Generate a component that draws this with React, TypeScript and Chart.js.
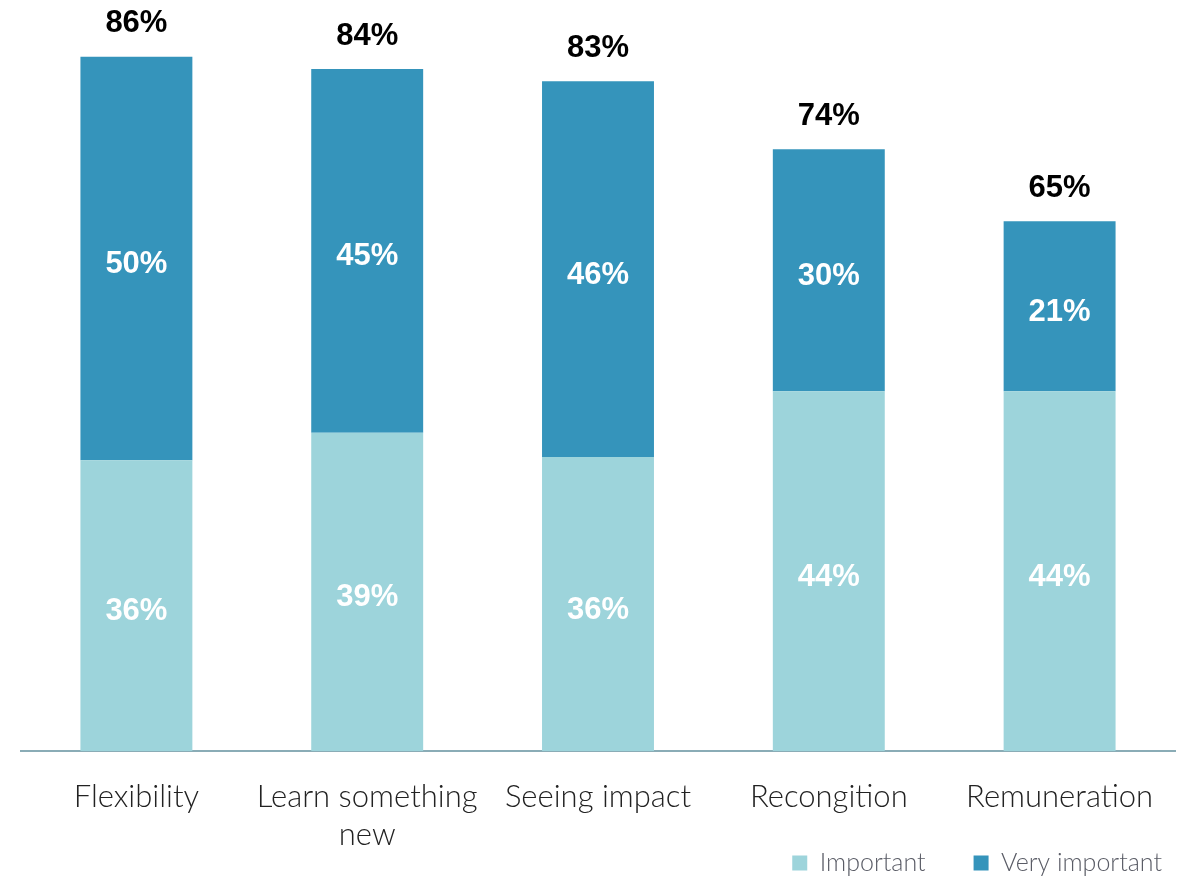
import React, { useEffect, useRef } from "react";
import { Chart, registerables } from "chart.js";

Chart.register(...registerables);

const categories: (string | string[])[] = [
  "Flexibility",
  ["Learn something", "new"],
  "Seeing impact",
  "Recongition",
  "Remuneration",
];
const importantValues = [35.9, 39.3, 36.3, 44.4, 44.4];
const veryImportantValues = [49.8, 44.9, 46.4, 29.9, 21.0];
const seriesNames = ["Important", "Very important"];

const LIGHT = "#9dd4db";
const DARK = "#3594bb";
const LABEL_FONT = "bold 31px 'Liberation Sans', Arial, sans-serif";
const LEGEND_FONT_SIZE = 25;
const LEGEND_PAD = 48;

const labelPlugin = {
  id: "valueLabels",
  afterDatasetsDraw(chart: any) {
    const ctx = chart.ctx;
    ctx.save();
    ctx.font = LABEL_FONT;
    ctx.textAlign = "center";
    ctx.textBaseline = "middle";
    chart.data.datasets.forEach((ds: any, di: number) => {
      const meta = chart.getDatasetMeta(di);
      meta.data.forEach((bar: any, i: number) => {
        const v = ds.data[i];
        ctx.fillStyle = "#ffffff";
        ctx.fillText(Math.round(v) + "%", bar.x, (bar.y + bar.base) / 2 + 6);
      });
    });
    const topMeta = chart.getDatasetMeta(chart.data.datasets.length - 1);
    topMeta.data.forEach((bar: any, i: number) => {
      const total = importantValues[i] + veryImportantValues[i];
      ctx.fillStyle = "#000000";
      ctx.fillText(Math.round(total) + "%", bar.x, bar.y - 33);
    });
    ctx.restore();
  },
};

// place the legend row in the bottom-right corner
const legendPlacer = {
  id: "legendPlacer",
  afterLayout(chart: any) {
    const lg = chart.legend;
    if (!lg) return;
    const targetCenterY = 863;
    const targetTextEnd = 1162;
    const itemH = Math.max(LEGEND_FONT_SIZE, 15);
    const newTop = targetCenterY - LEGEND_PAD - itemH / 2;
    lg.top = newTop;
    lg.bottom = newTop + LEGEND_PAD + itemH + 30;
    const newRight = targetTextEnd + LEGEND_PAD;
    const dx = newRight - lg.right;
    lg.left += dx;
    lg.right += dx;
  },
};

export default function App() {
  const canvasRef = useRef<HTMLCanvasElement | null>(null);

  useEffect(() => {
    if (!canvasRef.current) return;
    const chart = new Chart(canvasRef.current, {
      type: "bar",
      data: {
        labels: categories,
        datasets: [
          {
            label: seriesNames[0],
            data: importantValues,
            backgroundColor: LIGHT,
            categoryPercentage: 1,
            barPercentage: 0.485,
          },
          {
            label: seriesNames[1],
            data: veryImportantValues,
            backgroundColor: DARK,
            categoryPercentage: 1,
            barPercentage: 0.485,
          },
        ],
      },
      options: {
        animation: false,
        responsive: true,
        maintainAspectRatio: false,
        layout: { padding: { left: 21, right: 14, top: 22, bottom: 0 } },
        scales: {
          x: {
            stacked: true,
            grid: { display: false, drawTicks: false },
            border: { display: true, color: "#8aacb6", width: 2 },
            ticks: {
              color: "#222222",
              padding: 27,
              maxRotation: 0,
              autoSkip: false,
              font: { family: "Lato, 'Liberation Sans', sans-serif", size: 31, weight: "300", lineHeight: 1.22 },
            },
            afterFit: (scale: any) => {
              scale.height = 106;
            },
          },
          y: {
            stacked: true,
            display: false,
            min: 0,
            max: 90,
          },
        },
        plugins: {
          legend: {
            position: "bottom",
            align: "end",
            maxHeight: 20,
            labels: {
              color: "#5a5c66",
              boxWidth: 15,
              boxHeight: 15,
              padding: LEGEND_PAD,
              font: { family: "Lato, 'Liberation Sans', sans-serif", size: LEGEND_FONT_SIZE, weight: "300" },
            },
          },
          tooltip: { enabled: false },
        },
      },
      plugins: [labelPlugin, legendPlacer],
    });
    return () => chart.destroy();
  }, []);

  return (
    <div style={{ position: "fixed", left: 0, top: 0, width: 1189, height: 877, background: "#fff" }}>
      <canvas ref={canvasRef} />
    </div>
  );
}
